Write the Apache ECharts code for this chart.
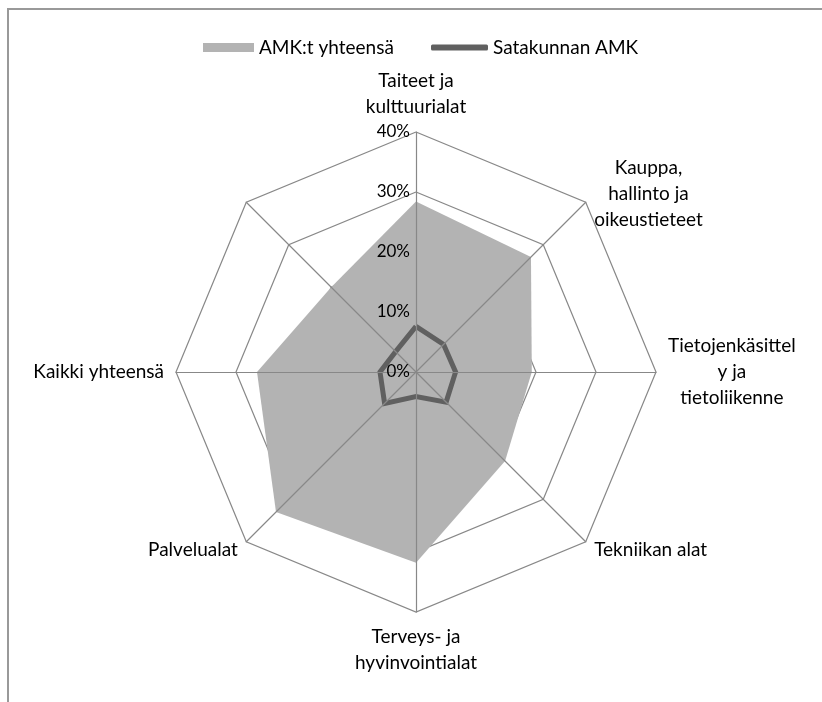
<!DOCTYPE html>
<html>
<head>
<meta charset="utf-8">
<script src="https://cdn.jsdelivr.net/npm/echarts@6/dist/echarts.min.js"></script>
<style>html,body{margin:0;padding:0;background:#fff}#c{width:822px;height:702px}</style>
</head>
<body>
<div id="c"></div>
<script>
// Categories clockwise from the top (as in the original chart)
const categories = ['Taiteet ja\nkulttuurialat', 'Kauppa,\nhallinto ja\noikeustieteet', 'Tietojenkäsittel\ny ja\ntietoliikenne', 'Tekniikan alat', 'Terveys- ja\nhyvinvointialat', 'Palvelualat', 'Kaikki yhteensä', ''];
const amkYhteensa = [28.4, 27.1, 19.3, 21.0, 31.8, 33.0, 26.5, 20.0];
const satakunta = [7.6, 6.5, 6.6, 7.1, 4.1, 7.4, 6.0, 4.8];
const seriesNames = ['AMK:t yhteensä', 'Satakunnan AMK'];
const axisMin = 0, axisMax = 40, axisStep = 10;

// ECharts places radar indicators counter-clockwise: reorder clockwise data
const ccw = arr => [arr[0]].concat(arr.slice(1).reverse());

const font = 'Lato, "Liberation Sans", sans-serif';
const gridColor = '#888888';
const nameSize = 19;

function indicators(withLabel) {
  return ccw(categories).map((name, i) => {
    const o = { name: name, min: axisMin, max: axisMax };
    if (withLabel && i === 0) o.axisLabel = { show: true };
    return o;
  });
}

const common = { center: [416, 372], radius: 240, startAngle: 90, splitNumber: (axisMax - axisMin) / axisStep, shape: 'polygon' };

const chart = echarts.init(document.getElementById('c'));
chart.setOption({
  backgroundColor: '#ffffff',
  animation: false,
  graphic: [{ type: 'rect', shape: { x: 8, y: 9, width: 900, height: 900 }, style: { fill: 'none', stroke: '#999999', lineWidth: 2 }, silent: true, z: 0 }],
  legend: [
    { data: [{ name: seriesNames[0], icon: 'rect' }], left: 198, top: 33, itemWidth: 51, itemHeight: 9,
      textStyle: { fontFamily: font, fontSize: nameSize, color: '#000' } },
    { data: [{ name: seriesNames[1], icon: 'roundRect' }], left: 426, top: 33, itemWidth: 57, itemHeight: 6,
      textStyle: { fontFamily: font, fontSize: nameSize, color: '#000' } }
  ],
  radar: [
    Object.assign({}, common, {
      z: 1,
      indicator: indicators(false),
      axisName: { show: false },
      axisLine: { show: false },
      axisTick: { show: false },
      axisLabel: { show: false },
      splitArea: { show: false },
      splitLine: { show: true, lineStyle: { color: gridColor, width: 1.2 } }
    }),
    Object.assign({}, common, {
      z: 3,
      indicator: indicators(true),
      nameGap: 12,
      axisName: {
        show: true, color: '#000', fontFamily: font, fontSize: nameSize, lineHeight: 26,
        formatter: function (name) {
          return name.split('\n').map(s => '{c|' + s + '}').join('\n');
        },
        rich: { c: { align: 'center', fontFamily: font, fontSize: nameSize, lineHeight: 26, color: '#000' } }
      },
      axisLine: { show: true, lineStyle: { color: gridColor, width: 1.2 } },
      axisTick: { show: false },
      axisLabel: { show: false, formatter: '{value}%', color: '#000', fontFamily: font, fontSize: 17, margin: 6 },
      splitArea: { show: false },
      splitLine: { show: false }
    })
  ],
  series: [
    { type: 'radar', radarIndex: 0, z: 2, symbol: 'none',
      data: [{ name: seriesNames[0], value: ccw(amkYhteensa),
        itemStyle: { color: '#B3B3B3' },
        lineStyle: { width: 0, color: '#B3B3B3' },
        areaStyle: { color: '#B3B3B3', opacity: 1 } }] },
    { type: 'radar', radarIndex: 0, z: 2, symbol: 'none',
      data: [{ name: seriesNames[1], value: ccw(satakunta),
        itemStyle: { color: '#606060' },
        lineStyle: { width: 5, color: '#606060', join: 'miter' } }] }
  ]
});
</script>
</body>
</html>
